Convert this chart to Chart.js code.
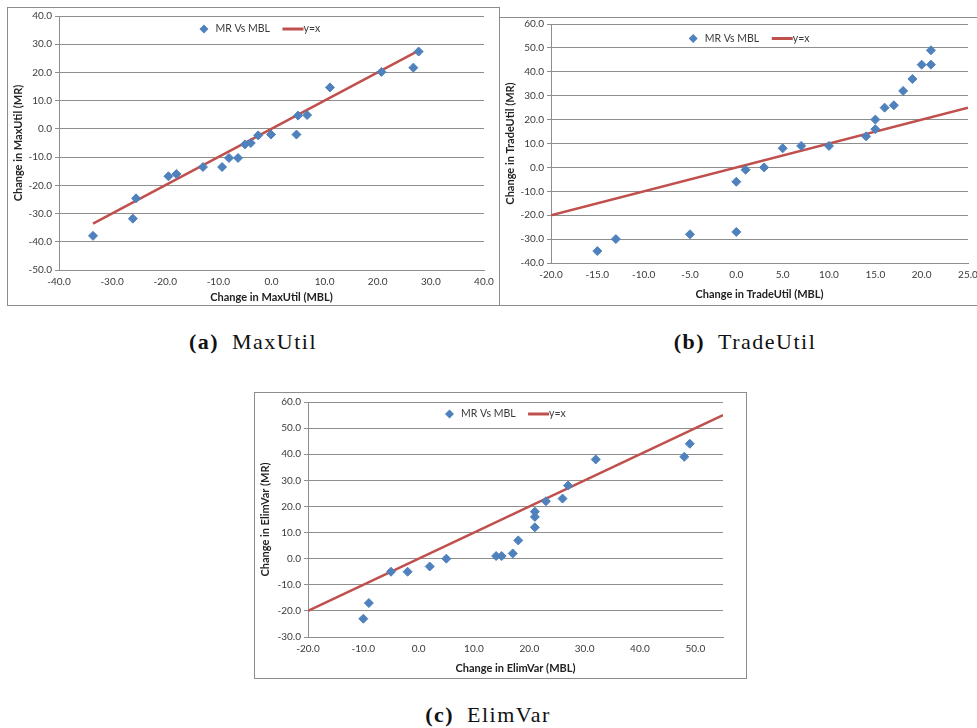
<!DOCTYPE html>
<html>
<head>
<meta charset="utf-8">
<script src="https://cdn.jsdelivr.net/npm/chart.js@4/dist/chart.umd.min.js"></script>
<style>
  body { margin: 0; width: 977px; height: 728px; background: #fff; position: relative; overflow: hidden; }
  .frame { position: absolute; border: 1px solid #8c8c8c; background: #fff; box-sizing: border-box; }
  .frame canvas { display: block; }
  .cap { position: absolute; font-family: "Liberation Serif", serif; font-size: 22px; letter-spacing: 1.5px; color: #111; white-space: nowrap; transform: translateX(-50%); }
  .cap b { margin-right: 13px; }
</style>
</head>
<body>
<div class="frame" id="fa" style="left:7px; top:7px; width:493px; height:299px;"><canvas id="ca"></canvas></div>
<div class="frame" id="fb" style="left:499px; top:17px; width:490px; height:289px;"><canvas id="cb"></canvas></div>
<div class="frame" id="fc" style="left:254px; top:392px; width:493px; height:287px;"><canvas id="cc"></canvas></div>
<div class="cap" style="left:253px; top:329px;"><b>(a)</b>MaxUtil</div>
<div class="cap" style="left:745px; top:329px;"><b>(b)</b>TradeUtil</div>
<div class="cap" style="left:488px; top:702px;"><b>(c)</b>ElimVar</div>
<script>
// MaxUtil: change under MBL (x) vs change under MR (y)
const maxUtilMBL = [-33.6, -26.1, -25.5, -19.4, -17.9, -12.9, -9.3, -8.0, -6.3, -5.0, -3.9, -2.5, -0.1, 4.7, 5.0, 6.7, 11.0, 20.7, 26.7, 27.7];
const maxUtilMR  = [-37.9, -31.8, -24.6, -16.8, -16.0, -13.5, -13.5, -10.3, -10.3, -5.5, -5.0, -2.3, -2.0, -2.0, 4.7, 4.9, 14.7, 20.2, 21.7, 27.4];
const maxUtilDiag = [-33.6, 27.7];

// TradeUtil
const tradeUtilMBL = [-15, -13, -5, 0, 0, 1, 3, 5, 7, 10, 14, 15, 15, 16, 17, 18, 19, 20, 21, 21];
const tradeUtilMR  = [-35, -30, -28, -27, -6, -1, 0, 8, 9, 9, 13, 16, 20, 25, 26, 32, 37, 43, 43, 49];
const tradeUtilDiag = [-20, 25];

// ElimVar
const elimVarMBL = [-10, -9, -5, -2, 2, 5, 14, 15, 17, 18, 21, 21, 21, 23, 26, 27, 32, 48, 49];
const elimVarMR  = [-23, -17, -5, -5, -3, 0, 1, 1, 2, 7, 12, 16, 18, 22, 23, 28, 38, 39, 44];
const elimVarDiag = [-20, 55];

const BLUE = '#4F81BD';
const RED = '#C0504D';
const TEXT = '#3a3a3a';
const GRID = '#8e8e8e';
const FONT = 'Lato, "Open Sans", sans-serif';

// Excel-style legend floating inside the plot area: diamond, label, red dash, label
const floatingLegend = {
  id: 'floatingLegend',
  afterDatasetsDraw(chart, args, opts) {
    const { ctx, chartArea } = chart;
    const labels = chart.data.datasets.map(d => d.label);
    let x = chartArea.left + chartArea.width * opts.at;
    const y = chartArea.top + opts.dy;
    ctx.save();
    ctx.font = '10.5px ' + FONT;
    ctx.fillStyle = TEXT;
    ctx.textBaseline = 'middle';
    // diamond
    ctx.fillStyle = BLUE;
    ctx.beginPath();
    ctx.moveTo(x, y - 4.5); ctx.lineTo(x + 4.5, y); ctx.lineTo(x, y + 4.5); ctx.lineTo(x - 4.5, y);
    ctx.closePath(); ctx.fill();
    x += 11.5;
    ctx.fillStyle = TEXT;
    ctx.fillText(labels[0], x, y);
    x += ctx.measureText(labels[0]).width + 12.5;
    // dash
    ctx.strokeStyle = RED;
    ctx.lineWidth = 3;
    ctx.beginPath();
    ctx.moveTo(x, y); ctx.lineTo(x + 21, y);
    ctx.stroke();
    x += 21;
    ctx.fillText(labels[1], x, y);
    ctx.restore();
  }
};

function pairs(xs, ys) {
  return xs.map((x, i) => ({ x, y: ys[i] }));
}

function makeChart(id, frameId, cfg) {
  const frame = document.getElementById(frameId);
  const canvas = document.getElementById(id);
  canvas.width = frame.clientWidth;
  canvas.height = frame.clientHeight;
  return new Chart(canvas, {
    type: 'scatter',
    plugins: [floatingLegend],
    data: {
      datasets: [
        {
          label: 'MR Vs MBL',
          data: pairs(cfg.xs, cfg.ys),
          backgroundColor: BLUE,
          borderColor: BLUE,
          pointStyle: 'rectRot',
          pointRadius: 4.5,
          order: 0
        },
        {
          label: 'y=x',
          type: 'line',
          data: pairs(cfg.diag, cfg.diag),
          borderColor: RED,
          backgroundColor: RED,
          borderWidth: 2.5,
          pointRadius: 0,
          order: 1
        }
      ]
    },
    options: {
      responsive: false,
      animation: false,
      layout: { padding: cfg.padding },
      plugins: {
        tooltip: { enabled: false },
        legend: { display: false },
        floatingLegend: { at: 0.341, dy: cfg.legendDy }
      },
      scales: {
        x: {
          type: 'linear',
          min: cfg.xMin, max: cfg.xMax,
          afterBuildTicks(scale) { scale.ticks = cfg.xTicks.map(v => ({ value: v })); },
          afterFit(scale) {
            scale.height = cfg.xAxisH;
            scale.paddingLeft = 0;
            scale.paddingRight = 0;
          },
          grid: { display: false, drawOnChartArea: false, drawTicks: true, tickLength: 4, color: GRID },
          border: { color: GRID, width: 1 },
          ticks: {
            color: TEXT, font: { family: FONT, size: 10 }, padding: 2, maxRotation: 0,
            callback: v => v.toFixed(1)
          },
          title: {
            display: true, text: cfg.xTitle, color: '#222',
            font: { family: FONT, size: 11, weight: 'bold' }, padding: { top: 2, bottom: 0 }
          }
        },
        y: {
          type: 'linear',
          min: cfg.yMin, max: cfg.yMax,
          ticks: {
            stepSize: 10, color: TEXT, font: { family: FONT, size: 10 }, padding: 3,
            callback: v => v.toFixed(1)
          },
          afterFit(scale) {
            scale.width = cfg.yAxisW;
            scale.paddingTop = 0;
            scale.paddingBottom = 0;
          },
          grid: { color: GRID, lineWidth: 1, tickLength: 4 },
          border: { color: GRID, width: 1 },
          title: {
            display: true, text: cfg.yTitle, color: '#222',
            font: { family: FONT, size: 11, weight: 'bold' }, padding: { top: 4, bottom: 2 }
          }
        }
      }
    }
  });
}

makeChart('ca', 'fa', {
  xs: maxUtilMBL, ys: maxUtilMR, diag: maxUtilDiag,
  xMin: -40, xMax: 40, xTicks: [-40, -30, -20, -10, 0, 10, 20, 30, 40],
  yMin: -50, yMax: 40,
  xTitle: 'Change in MaxUtil (MBL)', yTitle: 'Change in MaxUtil (MR)',
  yAxisW: 51, xAxisH: 34, legendDy: 13,
  padding: { left: 0, top: 8, right: 15, bottom: 1 }
});

makeChart('cb', 'fb', {
  xs: tradeUtilMBL, ys: tradeUtilMR, diag: tradeUtilDiag,
  xMin: -20, xMax: 25, xTicks: [-20, -15, -10, -5, 0, 5, 10, 15, 20, 25],
  yMin: -40, yMax: 60,
  xTitle: 'Change in TradeUtil (MBL)', yTitle: 'Change in TradeUtil (MR)',
  yAxisW: 51, xAxisH: 38, legendDy: 14.5,
  padding: { left: 0, top: 6, right: 20, bottom: 4 }
});

makeChart('cc', 'fc', {
  xs: elimVarMBL, ys: elimVarMR, diag: elimVarDiag,
  xMin: -20, xMax: 55, xTicks: [-20, -10, 0, 10, 20, 30, 40, 50],
  yMin: -30, yMax: 60,
  xTitle: 'Change in ElimVar (MBL)', yTitle: 'Change in ElimVar (MR)',
  yAxisW: 53, xAxisH: 38, legendDy: 12,
  padding: { left: 0, top: 9, right: 23, bottom: 3 }
});
</script>
</body>
</html>
